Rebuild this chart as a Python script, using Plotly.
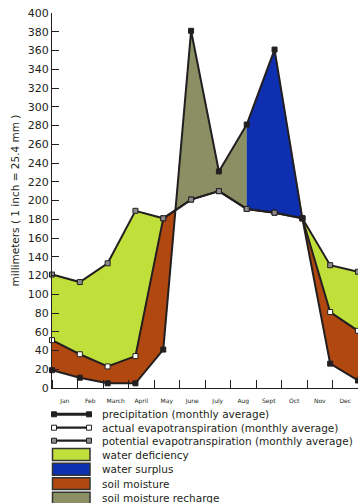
import plotly.graph_objects as go

# ---------------- data ----------------
months = ["Jan", "Feb", "March", "April", "May", "June", "July", "Aug", "Sept", "Oct", "Nov", "Dec"]
precipitation = [19, 11, 5, 5, 41, 381, 231, 281, 361, 181, 26, 8]
actual_et = [51, 36, 23, 34, 181, 201, 210, 191, 187, 181, 81, 61]
potential_et = [121, 113, 133, 189, 181, 201, 210, 191, 187, 181, 131, 124]
y_tick_values = list(range(0, 401, 20))

legend_lines = ["precipitation (monthly average)",
                "actual evapotranspiration (monthly average)",
                "potential evapotranspiration (monthly average)"]
legend_boxes = ["water deficiency", "water surplus", "soil moisture", "soil moisture recharge"]

# ---------------- style ----------------
DARK = "#231F20"
C_DEF = "#C0DF3A"
C_SUR = "#0E2FB0"
C_SOIL = "#B0480F"
C_REC = "#8A9064"
FONT = "DejaVu Sans"

W, H = 358, 503
PL, PR, PT, PB = 52, 358, 13, 388

idx = list(range(len(months)))

# intersection of precipitation and potential ET between May and June
p4, p5 = precipitation[4], precipitation[5]
e4, e5 = potential_et[4], potential_et[5]
t = (e4 - p4) / ((p5 - p4) - (e5 - e4))
xi, yi = 4 + t, p4 + t * (p5 - p4)

polys = [
    # water deficiency (spring)
    (idx[0:5] + idx[4::-1], potential_et[0:5] + actual_et[4::-1], C_DEF),
    # water deficiency (autumn)
    (idx[9:12] + idx[11:8:-1], potential_et[9:12] + actual_et[11:8:-1], C_DEF),
    # soil moisture (spring)
    (idx[0:5] + [xi] + idx[4::-1], actual_et[0:5] + [yi] + precipitation[4::-1], C_SOIL),
    # soil moisture (autumn)
    (idx[9:12] + idx[11:8:-1], actual_et[9:12] + precipitation[11:8:-1], C_SOIL),
    # soil moisture recharge
    ([xi] + idx[5:8] + idx[7:4:-1], [yi] + precipitation[5:8] + potential_et[7:4:-1], C_REC),
    # water surplus
    (idx[7:10] + idx[9:6:-1], precipitation[7:10] + potential_et[9:6:-1], C_SUR),
]

fig = go.Figure()
for xs, ys, col in polys:
    fig.add_trace(go.Scatter(x=xs, y=ys, fill="toself", fillcolor=col, mode="lines",
                             line=dict(color=col, width=0.5), hoverinfo="skip",
                             showlegend=False))

def line_trace(vals, mfill):
    return go.Scatter(x=idx, y=vals, mode="lines+markers",
                      line=dict(color=DARK, width=2),
                      marker=dict(symbol="square", size=5, color=mfill,
                                  line=dict(color=DARK, width=1)),
                      cliponaxis=False, showlegend=False)

fig.add_trace(line_trace(actual_et, "white"))
fig.add_trace(line_trace(potential_et, "#8C8C8C"))
fig.add_trace(line_trace(precipitation, DARK))

# ---------------- custom legend ----------------
def px(x):
    return (x - PL) / (PR - PL)

def py(y):
    return (PB - y) / (PB - PT)

shapes = []
annotations = []
line_rows = [414.3, 427.7, 440.7]
line_fills = [DARK, "white", "#8C8C8C"]
line_widths = [3, 2.2, 2.2]
for label, yc, mf, lw in zip(legend_lines, line_rows, line_fills, line_widths):
    shapes.append(dict(type="line", xref="paper", yref="paper", x0=px(53), x1=px(90),
                       y0=py(yc), y1=py(yc), line=dict(color=DARK, width=lw)))
    for cx in (54, 89):
        shapes.append(dict(type="rect", xref="paper", yref="paper",
                           x0=px(cx - 2.5), x1=px(cx + 2.5), y0=py(yc - 2.5), y1=py(yc + 2.5),
                           fillcolor=mf, line=dict(color=DARK, width=1)))
    annotations.append(dict(text=label, xref="paper", yref="paper", x=px(100), y=py(yc),
                            xanchor="left", yanchor="middle", showarrow=False,
                            font=dict(family=FONT, size=10.5, color=DARK)))

box_rows = [(448.5, 460.5), (463.3, 475.3), (477.8, 489.6), (492.3, 504.5)]
box_cols = [C_DEF, C_SUR, C_SOIL, C_REC]
for label, (y0, y1), col in zip(legend_boxes, box_rows, box_cols):
    shapes.append(dict(type="rect", xref="paper", yref="paper", x0=px(52.5), x1=px(90),
                       y0=py(y1), y1=py(y0), fillcolor=col, line=dict(color="#333333", width=1.5)))
    annotations.append(dict(text=label, xref="paper", yref="paper", x=px(100), y=py((y0 + y1) / 2),
                            xanchor="left", yanchor="middle", showarrow=False,
                            font=dict(family=FONT, size=10.5, color=DARK)))

fig.update_layout(
    width=W, height=H,
    margin=dict(l=PL, r=W - PR, t=PT, b=H - PB, pad=0),
    paper_bgcolor="white", plot_bgcolor="white",
    showlegend=False,
    font=dict(family=FONT, color=DARK),
    xaxis=dict(range=[0, 11], visible=False, fixedrange=True),
    xaxis2=dict(overlaying="x", range=[0, 12], anchor="y", side="bottom",
                tickmode="array", tickvals=[i + 0.5 for i in idx], ticktext=months,
                ticks="", showgrid=False, zeroline=False,
                showline=True, linecolor=DARK, linewidth=1,
                tickfont=dict(family=FONT, size=6, color=DARK),
                ticklabelstandoff=7,
                minor=dict(tickmode="array", tickvals=list(range(13)), ticks="inside",
                           ticklen=8, tickcolor=DARK, tickwidth=1, showgrid=False)),
    yaxis=dict(range=[0, 400], tickmode="array", tickvals=y_tick_values,
               ticks="inside", ticklen=7, tickcolor=DARK, tickwidth=1,
               showline=True, linecolor=DARK, linewidth=1, showgrid=False, zeroline=False,
               tickfont=dict(family=FONT, size=11, color=DARK),
               title=dict(text="millimeters ( 1 inch = 25.4 mm )", standoff=6,
                          font=dict(family=FONT, size=10.5, color=DARK))),
    shapes=shapes, annotations=annotations,
)
# dummy trace to activate xaxis2
fig.add_trace(go.Scatter(x=[0], y=[0], xaxis="x2", mode="markers", marker=dict(opacity=0),
                         showlegend=False, hoverinfo="skip"))

fig.write_html("out.html", config={"displayModeBar": False},
               post_script="document.body.style.margin='0';document.body.style.padding='0';")
